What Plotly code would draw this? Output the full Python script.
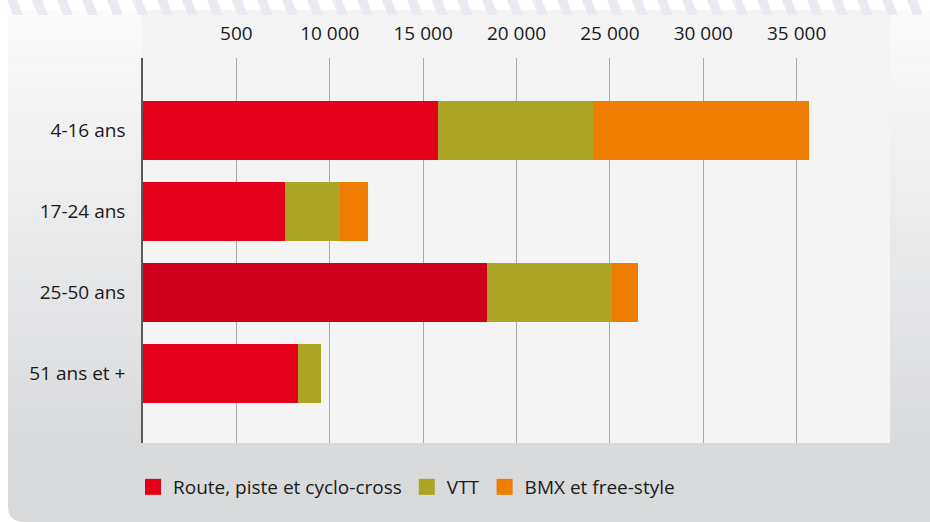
import plotly.graph_objects as go

# ---- data ----
categories = ["4-16 ans", "17-24 ans", "25-50 ans", "51 ans et +"]
route = [15780, 7590, 18410, 8290]
vtt = [8290, 2940, 6690, 1240]
bmx = [11610, 1500, 1380, 0]
series_names = ["Route, piste et cyclo-cross", "VTT", "BMX et free-style"]
tick_vals = [5000, 10000, 15000, 20000, 25000, 30000, 35000]
tick_text = ["500", "10 000", "15 000", "20 000", "25 000", "30 000", "35 000"]

# ---- style ----
RED = "#e2001a"
RED_DARK = "#cf001b"
OLIVE = "#aba424"
ORANGE = "#ef7d00"
TXT = "#1a1a1a"
FONT = "Open Sans"

W, H = 930, 522
L, R, T, B = 143, 40, 58, 79
PW, PH = W - L - R, H - T - B


def X(px):
    return (px - L) / PW


def Y(py):
    return (H - B - py) / PH


fig = go.Figure()

red_colors = [RED_DARK if c == "25-50 ans" else RED for c in categories]
fig.add_trace(go.Bar(y=categories, x=route, orientation="h", name=series_names[0],
                     marker=dict(color=red_colors, line=dict(width=0)), width=0.728,
                     showlegend=False, hoverinfo="x+y"))
fig.add_trace(go.Bar(y=categories, x=vtt, orientation="h", name=series_names[1],
                     marker=dict(color=OLIVE, line=dict(width=0)), width=0.728,
                     showlegend=False, hoverinfo="x+y"))
fig.add_trace(go.Bar(y=categories, x=bmx, orientation="h", name=series_names[2],
                     marker=dict(color=ORANGE, line=dict(width=0)), width=0.728,
                     showlegend=False, hoverinfo="x+y"))

# legend entries with larger square swatches
for name, col in zip(series_names, [RED, OLIVE, ORANGE]):
    fig.add_trace(go.Scatter(x=[None], y=[None], mode="markers", name=name,
                             marker=dict(symbol="square", size=16, color=col,
                                         line=dict(width=0)),
                             showlegend=True, hoverinfo="skip"))

shapes = []
# outer panel gradient
top_c = (251, 251, 251)
bot_c = (217, 218, 220)
y0p, y1p = 10, 443
n = 48
for i in range(n):
    ya = y0p + (y1p - y0p) * i / n
    yb = y0p + (y1p - y0p) * (i + 1) / n + 0.6
    f = (i + 0.5) / n
    c = tuple(round(top_c[k] + (bot_c[k] - top_c[k]) * f) for k in range(3))
    shapes.append(dict(type="rect", xref="paper", yref="paper", layer="below",
                       x0=X(8), x1=X(930), y0=Y(yb), y1=Y(ya),
                       fillcolor="rgb(%d,%d,%d)" % c, line=dict(width=0)))
# bottom band with rounded bottom-left corner
r = 16
path = "M %f,%f L %f,%f L %f,%f L %f,%f Q %f,%f %f,%f Z" % (
    X(8), Y(443), X(930), Y(443), X(930), Y(522), X(8 + r), Y(522),
    X(8), Y(522), X(8), Y(522 - r))
shapes.append(dict(type="path", xref="paper", yref="paper", layer="below", path=path,
                   fillcolor="rgb(217,218,220)", line=dict(width=0)))
# inner panel
shapes.append(dict(type="rect", xref="paper", yref="paper", layer="below",
                   x0=X(142), x1=X(890), y0=Y(443), y1=Y(10),
                   fillcolor="#f4f4f4", line=dict(width=0)))
# decorative stripes at top
sp = []
x = 7
while x < 940:
    sp.append("M %f,%f L %f,%f L %f,%f L %f,%f Z" % (
        X(x), Y(0), X(x + 10), Y(0), X(x + 16), Y(15), X(x + 6), Y(15)))
    x += 25
shapes.append(dict(type="path", xref="paper", yref="paper", layer="below",
                   path=" ".join(sp), fillcolor="#e9ebf1", line=dict(width=0)))

fig.update_layout(
    width=W, height=H,
    margin=dict(l=L, r=R, t=T, b=B, pad=0),
    paper_bgcolor="white",
    plot_bgcolor="rgba(0,0,0,0)",
    barmode="stack",
    shapes=shapes,
    font=dict(family=FONT, size=19, color=TXT),
    showlegend=True,
    legend=dict(orientation="h", x=X(133), xanchor="left", y=Y(487), yanchor="middle",
                bgcolor="rgba(0,0,0,0)", font=dict(family=FONT, size=19, color=TXT),
                traceorder="normal",
                itemclick=False, itemdoubleclick=False, tracegroupgap=0),
    xaxis=dict(side="top", range=[0, 40000], tickvals=tick_vals, ticktext=tick_text,
               showgrid=True, gridcolor="#a9a9a9", gridwidth=1, zeroline=False,
               showline=False, ticks="outside", ticklen=9, tickcolor="rgba(0,0,0,0)",
               tickfont=dict(family=FONT, size=19, color=TXT), fixedrange=True),
    yaxis=dict(type="category", categoryorder="array", categoryarray=categories,
               range=[3.858, -0.891], showline=True, linecolor="#5a5a5a", linewidth=1.5,
               showgrid=False, zeroline=False, ticks="outside", ticklen=12,
               tickcolor="rgba(0,0,0,0)", tickfont=dict(family=FONT, size=19, color=TXT),
               fixedrange=True),
)

fig.write_html("out.html", config={"displayModeBar": False},
               post_script="document.body.style.margin='0';document.body.style.overflow='hidden';")
